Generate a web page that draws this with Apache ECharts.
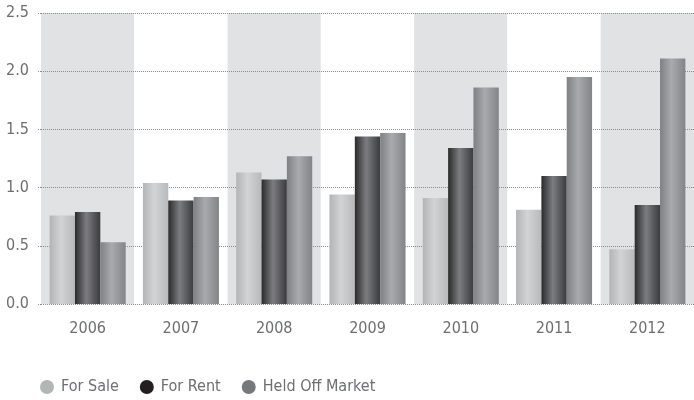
<!DOCTYPE html>
<html>
<head>
<meta charset="utf-8">
<script src="https://cdn.jsdelivr.net/npm/echarts@6/dist/echarts.min.js"></script>
<style>
  html, body { margin: 0; padding: 0; background: #fff; }
  #chart { width: 694px; height: 400px; }
</style>
</head>
<body>
<div id="chart"></div>
<script>
const years = ['2006', '2007', '2008', '2009', '2010', '2011', '2012']
const forSale = [0.76, 1.04, 1.13, 0.94, 0.91, 0.81, 0.47]
const forRent = [0.79, 0.89, 1.07, 1.44, 1.34, 1.10, 0.85]
const heldOff = [0.53, 0.92, 1.27, 1.47, 1.86, 1.95, 2.11]

const font = '"DejaVu Sans Condensed", "Liberation Sans Narrow", sans-serif'

// cylinder look: darker edges, lighter middle
function shade(edgeL, mid, edgeR) {
    return new echarts.graphic.LinearGradient(0, 0, 1, 0, [
        { offset: 0, color: edgeL },
        { offset: 0.45, color: mid },
        { offset: 1, color: edgeR },
    ])
}

function barSeries(name, data, fill) {
    return {
        name,
        type: 'bar',
        data,
        barGap: '0%',
        barCategoryGap: '18.5%',
        itemStyle: { color: fill },
        emphasis: { disabled: true },
    }
}

const chart = echarts.init(document.getElementById('chart'))
chart.setOption({
    animation: false,
    grid: { left: 41, right: 0, top: 13, bottom: 96 },
    legend: {
        left: 40,
        top: 379,
        padding: 0,
        icon: 'circle',
        itemWidth: 14,
        itemHeight: 14,
        itemGap: 21,
        textStyle: { fontFamily: font, fontSize: 16, color: '#6d6e70', padding: [0, 0, 0, 2] },
        data: [
            { name: 'For Sale', itemStyle: { color: '#b4b5b7' } },
            { name: 'For Rent', itemStyle: { color: '#231f20' } },
            { name: 'Held Off Market', itemStyle: { color: '#77787b' } },
        ],
    },
    xAxis: {
        type: 'category',
        data: years,
        z: 0,
        axisLine: { show: false },
        axisTick: { show: false },
        axisLabel: { fontFamily: font, fontSize: 16, color: '#6d6e70', margin: 17 },
        splitArea: { show: true, areaStyle: { color: ['#e1e2e4', '#ffffff'] } },
    },
    yAxis: {
        type: 'value',
        min: 0,
        max: 2.5,
        interval: 0.5,
        z: 1,
        axisLine: { show: false },
        axisTick: { show: true, length: 4, lineStyle: { type: 'dotted', color: '#8a8b8d' } },
        axisLabel: {
            fontFamily: font, fontSize: 16, color: '#6d6e70', margin: 12,
            formatter: v => v.toFixed(1),
        },
        splitLine: { lineStyle: { type: 'dotted', color: '#8a8b8d', width: 1 } },
    },
    series: [
        barSeries('For Sale', forSale, shade('#b3b4b6', '#d2d3d4', '#b8b9bb')),
        barSeries('For Rent', forRent, shade('#2b2a2b', '#7c7d80', '#3b3a3c')),
        barSeries('Held Off Market', heldOff, shade('#7f8083', '#a9aaac', '#838487')),
    ],
})
</script>
</body>
</html>
